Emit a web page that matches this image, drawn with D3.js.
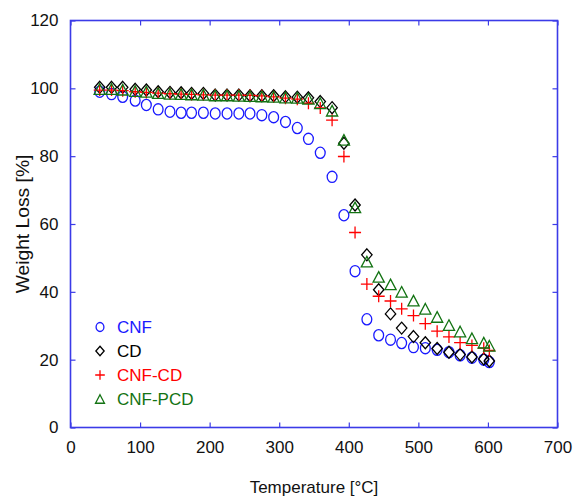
<!DOCTYPE html>
<html>
<head>
<meta charset="utf-8">
<script src="https://cdn.jsdelivr.net/npm/d3@7/dist/d3.min.js"></script>
<style>
  html, body { margin: 0; padding: 0; background: #fff; }
  svg { display: block; font-family: "Liberation Sans", Arial, sans-serif; }
</style>
</head>
<body>
<svg id="chart" width="574" height="497"></svg>
<script>
// Sampling temperatures (°C)
const temperature = [42, 59, 75, 93, 109, 126, 143, 159, 174, 191, 208, 225, 242, 258, 275, 292, 309, 326, 342, 359,
  376, 393, 409, 426, 443, 460, 476, 493, 510, 527, 544, 560, 577, 594, 602];

// Residual weight (%) per sample
const cnf = [99.0, 98.3, 97.5, 96.4, 95.1, 93.8, 93.1, 92.8, 92.8, 92.8, 92.6, 92.6, 92.6, 92.6, 92.1, 91.5, 90.1, 88.3, 85.1, 81.0,
  73.9, 62.6, 46.1, 31.9, 27.2, 25.9, 24.9, 23.7, 23.4, 22.9, 22.2, 21.3, 20.6, 20.0, 19.3];
const cd = [100.3, 100.3, 100.3, 99.7, 99.5, 99.0, 98.8, 98.7, 98.5, 98.5, 98.0, 98.0, 98.0, 97.8, 97.8, 97.8, 97.5, 97.4, 97.2, 96.1,
  94.3, 83.8, 65.6, 50.9, 40.6, 33.5, 29.3, 26.8, 25.0, 23.3, 22.2, 21.5, 20.8, 20.2, 19.6];
const cnfCd = [99.5, 99.5, 99.3, 99.0, 98.8, 98.6, 98.4, 98.3, 98.2, 98.1, 98.0, 98.0, 98.0, 97.9, 97.8, 97.5, 97.1, 96.8, 95.6, 94.2,
  90.6, 79.9, 57.5, 42.3, 38.7, 37.3, 35.0, 33.0, 30.6, 28.4, 26.7, 25.0, 24.2, 23.4, 22.7];
const cnfPcd = [99.8, 99.8, 99.6, 99.2, 99.0, 98.6, 98.4, 98.3, 98.2, 98.1, 97.9, 97.9, 97.8, 97.7, 97.6, 97.5, 97.3, 97.2, 96.9, 95.6,
  93.4, 84.8, 64.9, 48.9, 44.4, 42.2, 40.0, 37.4, 35.0, 32.6, 30.2, 28.3, 26.3, 25.0, 24.1];

const seriesNames = ["CNF", "CD", "CNF-CD", "CNF-PCD"];
const seriesColors = ["#1a1aff", "#000000", "#ff0000", "#137313"];
const seriesShapes = ["circle", "diamond", "plus", "triangle"];

const xTicks = [0, 100, 200, 300, 400, 500, 600, 700];
const yTicks = [0, 20, 40, 60, 80, 100, 120];

const svg = d3.select("#chart");
const plot = { left: 70.5, right: 557.5, top: 20.5, bottom: 427.5 };
const axisColor = "#3b3be8";
const fontSize = 17;

const x = d3.scaleLinear().domain([0, 700]).range([plot.left, plot.right]);
const y = d3.scaleLinear().domain([0, 120]).range([plot.bottom, plot.top]);

// Axes with inward ticks on all four sides
const tickLen = 5;
function styleAxis(g) {
  g.select(".domain").remove();
  g.selectAll(".tick line").attr("stroke", axisColor).attr("stroke-width", 1.2);
  g.selectAll(".tick text").attr("fill", "#111").attr("font-size", fontSize)
    .attr("font-family", "Liberation Sans, Arial, sans-serif");
}
svg.append("g").attr("transform", `translate(0,${plot.bottom})`)
  .call(d3.axisBottom(x).tickValues(xTicks).tickSize(-tickLen).tickPadding(13).tickFormat(d3.format("d")))
  .call(styleAxis);
svg.append("g").attr("transform", `translate(0,${plot.top})`)
  .call(d3.axisTop(x).tickValues(xTicks).tickSize(-tickLen).tickFormat(""))
  .call(styleAxis);
svg.append("g").attr("transform", `translate(${plot.left},0)`)
  .call(d3.axisLeft(y).tickValues(yTicks).tickSize(-tickLen).tickPadding(12).tickFormat(d3.format("d")))
  .call(styleAxis);
svg.append("g").attr("transform", `translate(${plot.right},0)`)
  .call(d3.axisRight(y).tickValues(yTicks).tickSize(-tickLen).tickFormat(""))
  .call(styleAxis);

// Frame
svg.append("rect")
  .attr("x", plot.left).attr("y", plot.top)
  .attr("width", plot.right - plot.left).attr("height", plot.bottom - plot.top)
  .attr("fill", "none").attr("stroke", axisColor).attr("stroke-width", 1.6);

// Axis titles
svg.append("text").attr("x", (plot.left + plot.right) / 2).attr("y", 493)
  .attr("text-anchor", "middle").attr("font-size", fontSize).attr("fill", "#111")
  .text("Temperature [°C]");
svg.append("text").attr("transform", `translate(29,${(plot.top + plot.bottom) / 2}) rotate(-90) scale(1.07,1)`)
  .attr("text-anchor", "middle").attr("font-size", 18).attr("fill", "#111")
  .text("Weight Loss [%]");

// Marker drawing
function drawMarker(g, shape, color, s) {
  if (shape === "circle") {
    g.append("ellipse").attr("rx", 4.9 * s).attr("ry", 5.6 * s)
      .attr("fill", "none").attr("stroke", color).attr("stroke-width", 1.3);
  } else if (shape === "diamond") {
    const w = 5.2 * s, h = 6.0 * s;
    g.append("path").attr("d", `M0,${-h}L${w},0L0,${h}L${-w},0Z`)
      .attr("fill", "none").attr("stroke", color).attr("stroke-width", 1.3);
  } else if (shape === "plus") {
    const r = 6.0 * s;
    g.append("path").attr("d", `M${-r},0H${r}M0,${-r}V${r}`)
      .attr("fill", "none").attr("stroke", color).attr("stroke-width", 1.3);
  } else if (shape === "triangle") {
    const w = 5.6 * s, h = 5.3 * s;
    g.append("path").attr("d", `M0,${-h}L${w},${h}L${-w},${h}Z`)
      .attr("fill", "none").attr("stroke", color).attr("stroke-width", 1.3);
  }
}

const seriesValues = [cnf, cd, cnfCd, cnfPcd];
seriesValues.forEach((vals, k) => {
  const g = svg.append("g").attr("class", "series-" + k);
  vals.forEach((v, i) => {
    const m = g.append("g").attr("transform", `translate(${x(temperature[i])},${y(v)})`);
    drawMarker(m, seriesShapes[k], seriesColors[k], 1);
  });
});

// Legend
const legendX = 100, legendY0 = 327, legendStep = 24;
seriesNames.forEach((name, k) => {
  const yy = legendY0 + k * legendStep;
  const m = svg.append("g").attr("transform", `translate(${legendX},${yy})`);
  drawMarker(m, seriesShapes[k], seriesColors[k], 0.8);
  svg.append("text").attr("x", legendX + 17).attr("y", yy + 6)
    .attr("font-size", fontSize).attr("fill", seriesColors[k]).text(name);
});
</script>
</body>
</html>
